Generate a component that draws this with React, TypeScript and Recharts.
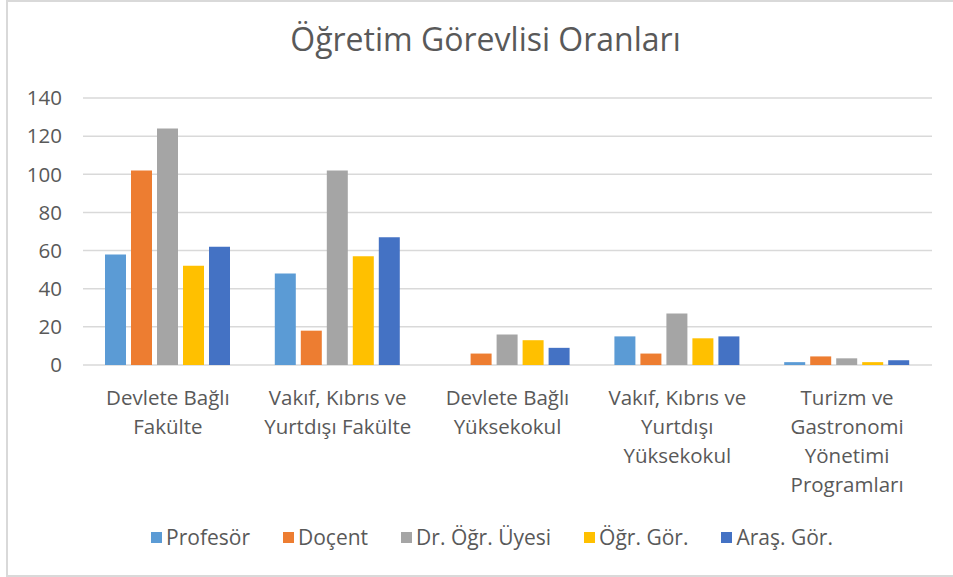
import React from 'react';
import { BarChart, Bar, XAxis, YAxis, CartesianGrid, Legend } from 'recharts';

const categories = [
  'Devlete Bağlı\nFakülte',
  'Vakıf, Kıbrıs ve\nYurtdışı Fakülte',
  'Devlete Bağlı\nYüksekokul',
  'Vakıf, Kıbrıs ve\nYurtdışı\nYüksekokul',
  'Turizm ve\nGastronomi\nYönetimi\nProgramları',
];

const profesor = [58, 48, 0, 15, 1.5];
const docent = [102, 18, 6, 6, 4.5];
const drOgrUyesi = [124, 102, 16, 27, 3.5];
const ogrGor = [52, 57, 13, 14, 1.5];
const arasGor = [62, 67, 9, 15, 2.5];

const yTicks = [0, 20, 40, 60, 80, 100, 120, 140];

const series = [
  { key: 'profesor', name: 'Profesör', color: '#5B9BD5' },
  { key: 'docent', name: 'Doçent', color: '#ED7D31' },
  { key: 'drOgrUyesi', name: 'Dr. Öğr. Üyesi', color: '#A5A5A5' },
  { key: 'ogrGor', name: 'Öğr. Gör.', color: '#FFC000' },
  { key: 'arasGor', name: 'Araş. Gör.', color: '#4472C4' },
];

const data = categories.map((c, i) => ({
  category: c,
  profesor: profesor[i],
  docent: docent[i],
  drOgrUyesi: drOgrUyesi[i],
  ogrGor: ogrGor[i],
  arasGor: arasGor[i],
}));

const FONT = '"Open Sans", sans-serif';
const TEXT = '#595959';

function CategoryTick({ x, y, payload }: any) {
  const lines = String(payload.value).split('\n');
  return (
    <text x={x} y={y} textAnchor="middle" fill={TEXT} fontSize={20.5} fontFamily={FONT}>
      {lines.map((l, i) => (
        <tspan key={i} x={x} dy={i === 0 ? 38 : 29}>
          {l}
        </tspan>
      ))}
    </text>
  );
}

function LegendContent() {
  return (
    <div
      style={{
        display: 'flex',
        justifyContent: 'center',
        gap: 33,
        fontFamily: FONT,
        fontSize: 21,
        lineHeight: '26px',
        height: 26,
        color: TEXT,
        paddingLeft: 31,
      }}
    >
      {series.map((s) => (
        <div key={s.key} style={{ display: 'flex', alignItems: 'center' }}>
          <span style={{ width: 11, height: 11, background: s.color, marginRight: 4, display: 'inline-block' }} />
          <span>{s.name}</span>
        </div>
      ))}
    </div>
  );
}

export default function App() {
  return (
    <div style={{ position: 'absolute', left: 0, top: 0, width: 953, height: 577, overflow: 'hidden', background: '#fff' }}>
      <div
        style={{
          position: 'absolute',
          left: 6,
          top: 0,
          width: 960,
          height: 573,
          border: '2px solid #D9D9D9',
        }}
      />
      <div
        style={{
          position: 'absolute',
          left: 18,
          top: 17,
          width: 935,
          textAlign: 'center',
          fontFamily: FONT,
          fontSize: 32,
          color: TEXT,
        }}
      >
        Öğretim Görevlisi Oranları
      </div>
      <div style={{ position: 'absolute', left: 0, top: 0 }}>
        <BarChart
          width={953}
          height={577}
          data={data}
          margin={{ top: 98, right: 21, left: 0, bottom: 36 }}
          barSize={21}
          barGap={5}
        >
          <CartesianGrid vertical={false} stroke="#D9D9D9" strokeWidth={1.5} />
          <XAxis
            dataKey="category"
            axisLine={false}
            tickLine={false}
            tickSize={0}
            height={150}
            interval={0}
            tick={<CategoryTick />}
          />
          <YAxis
            width={83}
            domain={[0, 140]}
            ticks={yTicks}
            axisLine={false}
            tickLine={false}
            tickSize={0}
            tickMargin={21}
            tick={{ fill: TEXT, fontSize: 20.5, fontFamily: FONT }}
          />
          <Legend
            verticalAlign="bottom"
            content={<LegendContent />}
            wrapperStyle={{ left: 0, width: 953, bottom: 27 }}
          />
          {series.map((s) => (
            <Bar key={s.key} dataKey={s.key} name={s.name} fill={s.color} isAnimationActive={false} />
          ))}
        </BarChart>
      </div>
    </div>
  );
}
